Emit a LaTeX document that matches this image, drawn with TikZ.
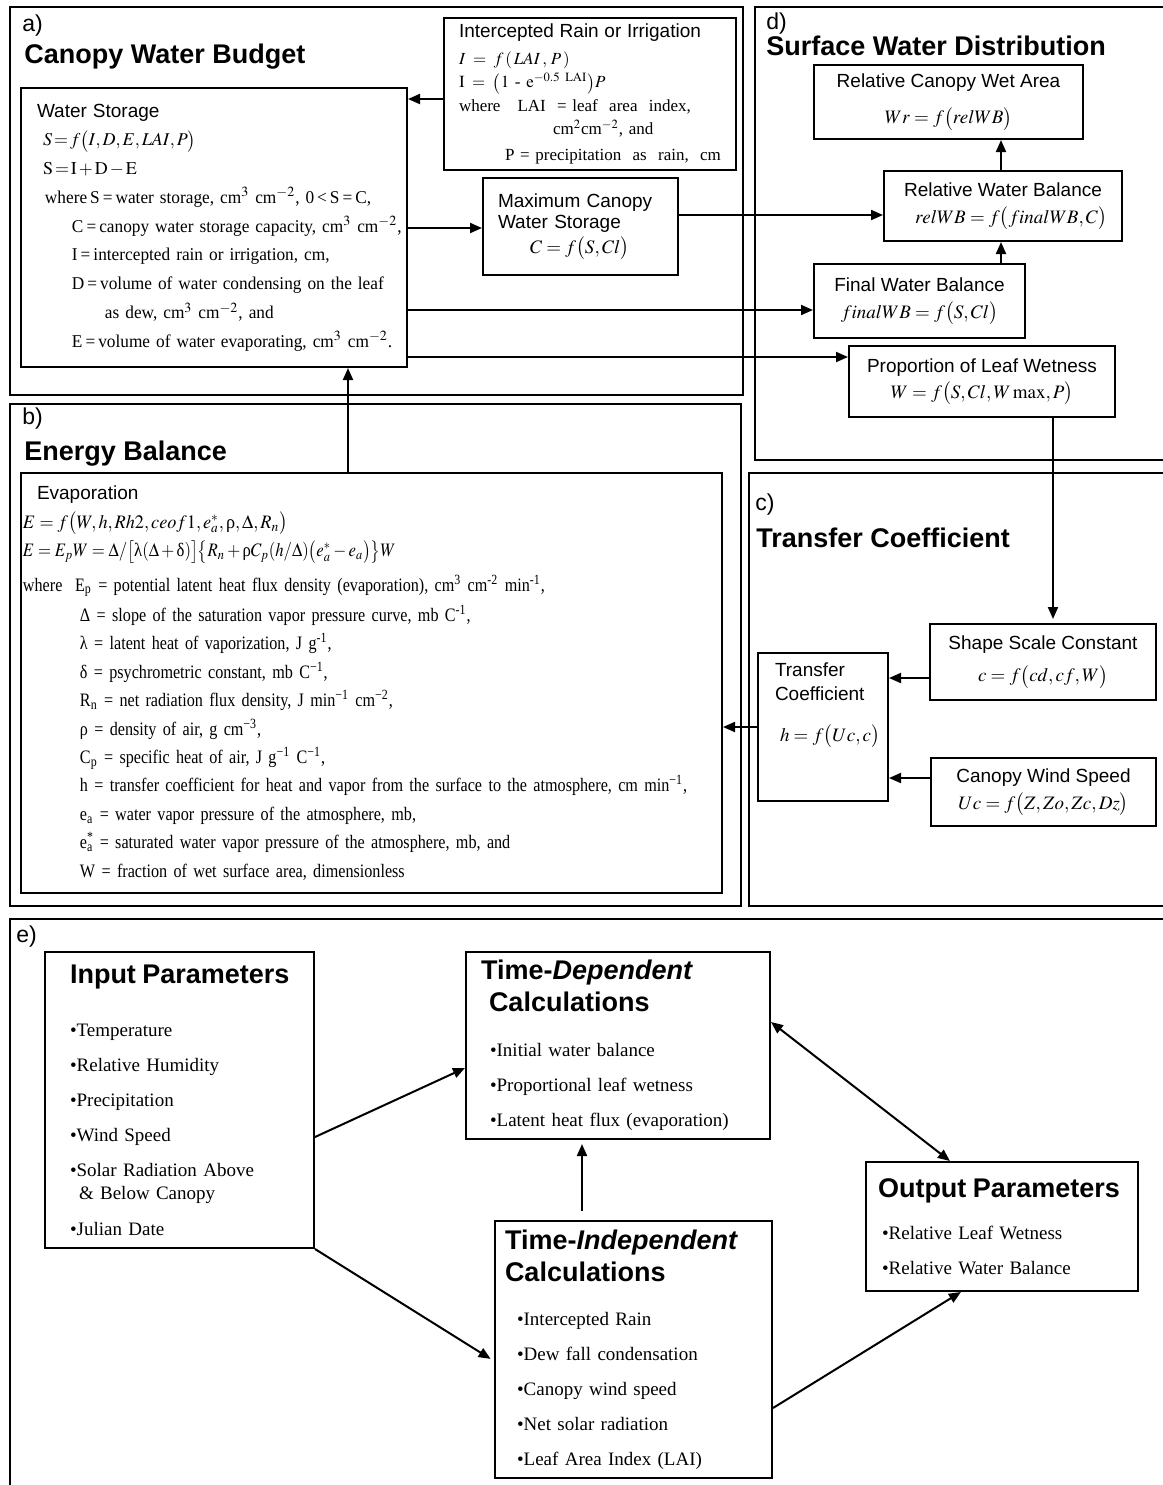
\documentclass[tikz,border=0pt]{standalone}
\usepackage{mathptmx}
\usepackage{graphicx}
\usepackage{fontspec}
\setmainfont{Liberation Serif}
\setsansfont{Liberation Sans}
\newfontfamily\narrowserif[FakeStretch=0.85]{Liberation Serif}
\newfontfamily\slimserif[FakeStretch=0.96]{Liberation Serif}
\usetikzlibrary{arrows.meta,calc}
\newcommand\li[2]{\hspace*{#1}\mbox{#2}}
\newcommand\tightmath{\thickmuskip=2mu\relax\medmuskip=2mu\relax}

\begin{document}
\begin{tikzpicture}[x=0.5pt,y=-0.5pt,
box/.style={draw,line width=1pt,inner ysep=0pt,align=left},
cbox/.style={draw,line width=1pt,inner sep=0pt,align=center,font=\sffamily\fontsize{9.5}{11}\selectfont},
panel/.style={line width=0.75pt},
arr/.style={-{Triangle[length=6pt,width=5pt]},line width=1pt},
tag/.style={anchor=base west,inner sep=0pt,font=\sffamily\fontsize{11.5}{12}\selectfont},
ttl/.style={anchor=base west,inner sep=0pt,font=\sffamily\bfseries\fontsize{13.5}{15}\selectfont}]
\useasboundingbox (0,0) rectangle (1163,1485);

\draw[panel] (10,7) rectangle (743,395);
\draw[panel] (10,404) rectangle (741,906);
\draw[panel] (1163,7) -| (755,460) -- (1163,460);
\draw[panel] (1163,473) -| (749,906) -- (1163,906);
\draw[panel] (1163,919) -| (10,1485);

\node[tag] (la) at (22,31) {a)};
\node[ttl] (ta) at (24,63) {Canopy Water Budget};
\node[tag] (lb) at (22,424) {b)};
\node[ttl] (tb) at (24,460) {Energy Balance};
\node[tag] (lc) at (755,510) {c)};
\node[ttl] (tcf) at (756,547) {Transfer Coefficient};
\node[tag] (ld) at (766,29) {d)};
\node[ttl] (td) at (766,55) {Surface Water Distribution};
\node[tag] (le) at (16,942) {e)};

\node[box,minimum width=193pt,minimum height=139.5pt,text width=191pt,inner xsep=1pt,font=\slimserif\fontsize{9}{14.4}\selectfont] (ws) at (214,227.5) {\tightmath%
\li{7pt}{\sffamily\fontsize{9.5}{14.4}\selectfont Water Storage}\\
\li{10pt}{$S=f\bigl(I,D,E,LAI,P\bigr)$}\\
\li{10pt}{$\mathrm{S=I+D-E}$}\\
\li{11pt}{where\,S\,=\,water storage, cm$^3$ cm$^{-2}$, 0\,<\,S\,=\,C,}\\
\li{24.5pt}{C\,=\,canopy water storage capacity, cm$^3$ cm$^{-2}$,}\\
\li{24.5pt}{I\,=\,intercepted rain or irrigation, cm,}\\
\li{24.5pt}{D\,=\,volume of water condensing on the leaf}\\
\li{41pt}{as dew, cm$^3$ cm$^{-2}$, and}\\
\li{24.5pt}{E\,=\,volume of water evaporating, cm$^3$ cm$^{-2}$.}};
\node[box,minimum width=146pt,minimum height=76pt,text width=144pt,inner xsep=1pt,font=\fontsize{8.5}{11.6}\selectfont] (ir) at (590,94) {%
\li{6.5pt}{\sffamily\fontsize{9.5}{11.6}\selectfont Intercepted Rain or Irrigation}\\[2pt]
\li{6.5pt}{$I\;=\;f\,(\,LAI\,,\,P\,)$}\\
\li{6.5pt}{$\mathrm{I}\;=\;\bigl(1\mbox{ - }\mathrm{e}^{-0.5\ \mathrm{LAI}}\bigr)P$}\\
\li{6.5pt}{where~~~LAI~~=~leaf~~area~~index,}\\
\li{53.5pt}{cm$^2$cm$^{-2}$, and}\\[1.5pt]
\li{29.5pt}{P = precipitation~~as~~rain,~~cm}};
\node[box,minimum width=97.5pt,minimum height=48.5pt,text width=95.5pt,inner xsep=1pt,font=\sffamily\fontsize{9.5}{10.5}\selectfont] (mc) at (580.5,226.5) {%
\li{6.5pt}{Maximum Canopy}\\
\li{6.5pt}{Water Storage}\\[2pt]
\li{22.5pt}{$C=f\bigl(S,Cl\bigr)$}};

\node[cbox,minimum width=134.5pt,minimum height=37pt] (rcwa) at (948.5,102) {Relative Canopy Wet Area\\[7pt]$Wr=f\bigl(relWB\bigr)$};
\node[cbox,minimum width=119pt,minimum height=35pt] (rwb) at (1003,206) {Relative Water Balance\\[2.5pt]\hspace*{8pt}$relWB=f\bigl(finalWB,C\bigr)$};
\node[cbox,minimum width=105.5pt,minimum height=37pt] (fwb) at (919.5,301) {Final Water Balance\\[2.5pt]$finalWB=f\bigl(S,Cl\bigr)$};
\node[cbox,minimum width=133pt,minimum height=35.5pt] (plw) at (982,381.5) {Proportion of Leaf Wetness\\[2pt]$W=f\bigl(S,Cl,W\,\mathrm{max},P\bigr)$};

\node[cbox,minimum width=113pt,minimum height=38pt] (ssc) at (1043,662) {Shape Scale Constant\\[5pt]$c=f\bigl(cd,cf,W\bigr)$};
\node[cbox,minimum width=112.5pt,minimum height=34pt] (cws) at (1043.5,792) {Canopy Wind Speed\\[2.5pt]$Uc=f\bigl(Z,Zo,Zc,Dz\bigr)$};
\node[box,minimum width=65pt,minimum height=74pt,text width=48pt,inner xsep=8.5pt,font=\sffamily\fontsize{9.5}{12}\selectfont] (tc) at (823,727) {%
Transfer\\
Coefficient\\[8.5pt]
\li{2.5pt}{$h=f\bigl(Uc,c\bigr)$}\\[9.5pt]
\strut};

\node[box,minimum width=350.5pt,minimum height=210pt,text width=348.5pt,inner xsep=1pt,font=\narrowserif\fontsize{9.5}{14.2}\selectfont] (evap) at (371.5,683) {%
\li{7pt}{\sffamily\fontsize{9.5}{14.2}\selectfont Evaporation}\\
\li{0pt}{\scalebox{0.96}[1]{$E=f\bigl(W,h,Rh2,ceof\mathrm{1},e_a^*,\textrm{ρ},\Delta,R_n\bigr)$}}\\
\li{0pt}{\scalebox{0.88}[1]{$E=E_pW=\Delta/\bigl[\textrm{λ}(\Delta+\textrm{δ})\bigr]\bigl\{R_n+\textrm{ρ}C_p(h/\Delta)\bigl(e_a^*-e_a\bigr)\bigr\}W$}}\\[3pt]
\li{0pt}{where~~E\textsubscript{p} = potential latent heat flux density (evaporation), cm\textsuperscript{3} cm\textsuperscript{-2} min\textsuperscript{-1},}\\[1pt]
\li{28.5pt}{Δ = slope of the saturation vapor pressure curve, mb C\textsuperscript{-1},}\\
\li{28.5pt}{λ = latent heat of vaporization, J g\textsuperscript{-1},}\\
\li{28.5pt}{δ = psychrometric constant, mb C\textsuperscript{−1},}\\
\li{28.5pt}{R\textsubscript{n} = net radiation flux density, J min\textsuperscript{−1} cm\textsuperscript{−2},}\\
\li{28.5pt}{ρ = density of air, g cm\textsuperscript{−3},}\\
\li{28.5pt}{C\textsubscript{p} = specific heat of air, J g\textsuperscript{−1} C\textsuperscript{−1},}\\
\li{28.5pt}{h = transfer coefficient for heat and vapor from the surface to the atmosphere, cm min\textsuperscript{−1},}\\
\li{28.5pt}{e\textsubscript{a} = water vapor pressure of the atmosphere, mb,}\\
\li{28.5pt}{e\rlap{\textsuperscript{*}}\textsubscript{a} = saturated water vapor pressure of the atmosphere, mb, and}\\
\li{28.5pt}{W = fraction of wet surface area, dimensionless}};

\node[box,minimum width=134.5pt,minimum height=148pt,text width=109.5pt,inner xsep=12.5pt,font=\fontsize{9.5}{17.5}\selectfont] (inp) at (179.5,1100) {%
\li{0pt}{\sffamily\bfseries\fontsize{13.5}{16}\selectfont Input Parameters}\\[9pt]
•Temperature\\
•Relative Humidity\\
•Precipitation\\
•Wind Speed\\
•Solar Radiation Above\\[-6pt]
\li{4.5pt}{\& Below Canopy}\\[0.5pt]
•Julian Date};
\node[box,minimum width=152pt,minimum height=93.5pt,text width=137pt,inner xsep=7.5pt,font=\fontsize{9.5}{17.5}\selectfont] (tdep) at (618,1045.5) {%
\li{0pt}{\sffamily\bfseries\fontsize{13.5}{16}\selectfont Time-\textit{Dependent}}\\[-1.5pt]
\li{4pt}{\sffamily\bfseries\fontsize{13.5}{16}\selectfont Calculations}\\[5pt]
\li{4.5pt}{•Initial water balance}\\
\li{4.5pt}{•Proportional leaf wetness}\\
\li{4.5pt}{•Latent heat flux (evaporation)}};
\node[box,minimum width=138.5pt,minimum height=128.5pt,text width=128.5pt,inner xsep=5pt,font=\fontsize{9.5}{17.5}\selectfont] (tind) at (633.5,1349.5) {%
\li{0pt}{\sffamily\bfseries\fontsize{13.5}{16}\selectfont Time-\textit{Independent}}\\[-1.5pt]
\li{0pt}{\sffamily\bfseries\fontsize{13.5}{16}\selectfont Calculations}\\[4.5pt]
\li{6pt}{•Intercepted Rain}\\
\li{6pt}{•Dew fall condensation}\\
\li{6pt}{•Canopy wind speed}\\
\li{6pt}{•Net solar radiation}\\
\li{6pt}{•Leaf Area Index (LAI)}};
\node[box,minimum width=136pt,minimum height=64.5pt,text width=124pt,inner xsep=6pt,font=\fontsize{9.5}{17.5}\selectfont] (out) at (1002,1226.5) {%
\li{0pt}{\sffamily\bfseries\fontsize{13.5}{16}\selectfont Output Parameters}\\[3.5pt]
\li{2pt}{•Relative Leaf Wetness}\\
\li{2pt}{•Relative Water Balance}};

\draw[arr] (ir.west |- 0,99) -- (ws.east |- 0,99);
\draw[arr] (ws.east |- 0,228) -- (mc.west |- 0,228);
\draw[arr] (ws.east |- 0,310) -- (fwb.west |- 0,310);
\draw[arr] (ws.east |- 0,357) -- (plw.west |- 0,357);
\draw[arr] (mc.east |- 0,215) -- (rwb.west |- 0,215);
\draw[arr] (fwb.north -| 1001,0) -- (rwb.south -| 1001,0);
\draw[arr] (rwb.north -| 1001,0) -- (rcwa.south -| 1001,0);
\draw[arr,shorten >=2pt] (plw.south -| 1053,0) -- (ssc.north -| 1053,0);
\draw[arr] (ssc.west |- 0,678) -- (tc.east |- 0,678);
\draw[arr] (cws.west |- 0,778) -- (tc.east |- 0,778);
\draw[arr] (tc.west) -- (evap.east |- tc.west);
\draw[arr] (evap.north -| 348,0) -- (ws.south -| 348,0);
\draw[arr] (inp.east |- 0,1137) -- (tdep.west |- 0,1068);
\draw[arr,shorten >=2pt] (inp.south east) -- (tind.west |- 0,1361);
\draw[arr,shorten <=4.5pt,shorten >=2pt] (tind.north -| 582,0) -- (tdep.south -| 582,0);
\draw[arr,{Triangle[length=6pt,width=5pt]}-{Triangle[length=6pt,width=5pt]}] (tdep.east |- 0,1022) -- ($(out.north west)!0.31!(out.north east)$);
\draw[arr] (tind.east |- 0,1408) -- ($(out.south west)!0.35!(out.south east)$);
\end{tikzpicture}
\end{document}
